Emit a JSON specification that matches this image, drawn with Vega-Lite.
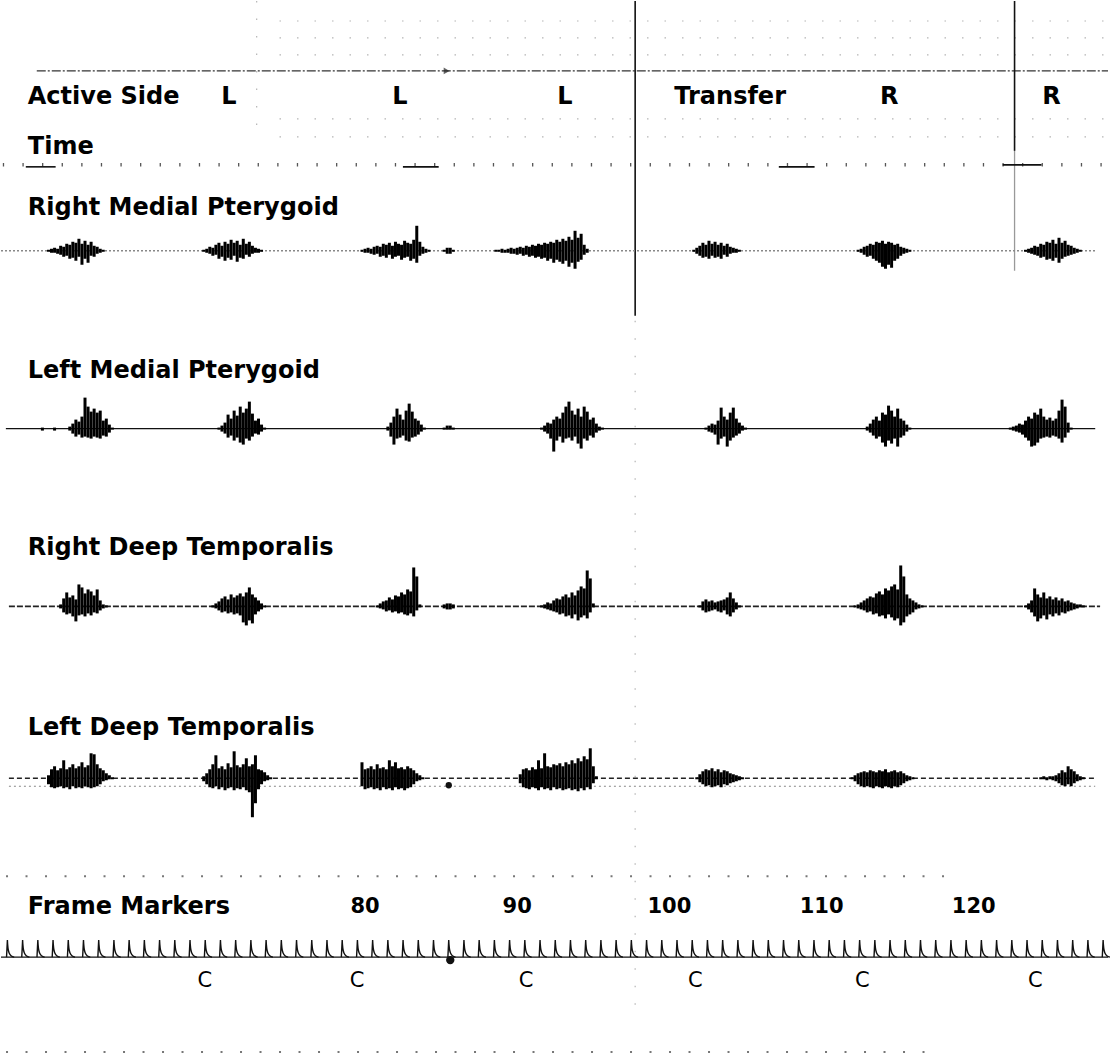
{
"$schema":"https://vega.github.io/schema/vega-lite/v6.json",
"width":1113,"height":1055,
"autosize":{"type":"fit","contains":"padding"},
"padding":0,
"background":"white",
"config":{"view":{"stroke":null},"text":{"font":"DejaVu Sans","color":"#000"}},
"resolve":{"scale":{"y":"independent"}},
"datasets":{
"lines":[
{"s":"faint","f1":74.38,"f2":128.82,"p1":20,"p2":20},
{"s":"faint","f1":74.38,"f2":128.82,"p1":37,"p2":37},
{"s":"faint","f1":74.38,"f2":128.82,"p1":54,"p2":54},
{"s":"faint","f1":74.38,"f2":128.82,"p1":118,"p2":118},
{"s":"faint","f1":74.38,"f2":128.82,"p1":136,"p2":136},
{"s":"faint","f1":72.88,"f2":72.88,"p1":0,"p2":130},
{"s":"faint","f1":97.75,"f2":97.75,"p1":320,"p2":1010},
{"s":"dots","f1":56.41,"f2":118.17,"p1":876,"p2":876},
{"s":"dots","f1":56.41,"f2":116.86,"p1":1052,"p2":1052},
{"s":"tick","f1":56.2,"f2":128.82,"p1":164,"p2":164},
{"s":"dash","f1":58.43,"f2":128.82,"p1":70,"p2":70},
{"s":"gray","f1":122.68,"f2":122.68,"p1":150,"p2":270},
{"s":"solid","f1":97.75,"f2":97.75,"p1":0,"p2":315},
{"s":"solid","f1":122.68,"f2":122.68,"p1":0,"p2":150},
{"s":"solid","f1":57.71,"f2":59.67,"p1":166,"p2":166},
{"s":"solid","f1":82.49,"f2":84.84,"p1":166,"p2":166},
{"s":"solid","f1":107.19,"f2":109.54,"p1":166,"p2":166},
{"s":"solid","f1":121.9,"f2":124.45,"p1":164,"p2":164}
],
"texts":[
{"k":"lab","t":"Active Side","f":57.84,"p":96},
{"k":"lab","t":"Time","f":57.84,"p":146},
{"k":"lab","t":"Right Medial Pterygoid","f":57.84,"p":207},
{"k":"lab","t":"Left Medial Pterygoid","f":57.84,"p":370},
{"k":"lab","t":"Right Deep Temporalis","f":57.84,"p":548},
{"k":"lab","t":"Left Deep Temporalis","f":57.84,"p":728},
{"k":"lab","t":"Frame Markers","f":57.84,"p":907},
{"k":"side","t":"L","f":71.05,"p":96},
{"k":"side","t":"L","f":82.29,"p":96},
{"k":"side","t":"L","f":93.14,"p":96},
{"k":"side","t":"Transfer","f":103.99,"p":96},
{"k":"side","t":"R","f":114.45,"p":96},
{"k":"side","t":"R","f":125.1,"p":96},
{"k":"num","t":"80","f":80,"p":907},
{"k":"num","t":"90","f":90,"p":907},
{"k":"num","t":"100","f":100,"p":907},
{"k":"num","t":"110","f":110,"p":907},
{"k":"num","t":"120","f":120,"p":907},
{"k":"c","t":"C","f":69.48,"p":981},
{"k":"c","t":"C","f":79.48,"p":981},
{"k":"c","t":"C","f":90.59,"p":981},
{"k":"c","t":"C","f":101.7,"p":981},
{"k":"c","t":"C","f":112.68,"p":981},
{"k":"c","t":"C","f":124.05,"p":981}
],
"rmp":[
{"f":59.2,"h":1,"l":-1},{"f":59.4,"h":2,"l":-2},{"f":59.6,"h":3,"l":-2},{"f":59.8,"h":2,"l":-3},{"f":60.0,"h":5,"l":-4},{"f":60.2,"h":4,"l":-6},{"f":60.4,"h":7,"l":-5},{"f":60.6,"h":6,"l":-8},{"f":60.8,"h":9,"l":-7},{"f":61.0,"h":8,"l":-10},{"f":61.2,"h":12,"l":-6},{"f":61.4,"h":7,"l":-14},{"f":61.6,"h":10,"l":-8},{"f":61.8,"h":6,"l":-12},{"f":62.0,"h":9,"l":-5},{"f":62.2,"h":5,"l":-6},{"f":62.4,"h":4,"l":-3},{"f":62.6,"h":2,"l":-2},{"f":62.8,"h":1,"l":-1},
{"f":69.4,"h":1,"l":-1},{"f":69.6,"h":2,"l":-2},{"f":69.8,"h":4,"l":-3},{"f":70.0,"h":3,"l":-5},{"f":70.2,"h":6,"l":-4},{"f":70.4,"h":8,"l":-8},{"f":70.6,"h":5,"l":-6},{"f":70.8,"h":9,"l":-10},{"f":71.0,"h":7,"l":-7},{"f":71.2,"h":11,"l":-9},{"f":71.4,"h":8,"l":-5},{"f":71.6,"h":10,"l":-11},{"f":71.8,"h":6,"l":-7},{"f":72.0,"h":12,"l":-8},{"f":72.2,"h":7,"l":-4},{"f":72.4,"h":9,"l":-6},{"f":72.6,"h":5,"l":-3},{"f":72.8,"h":3,"l":-2},{"f":73.0,"h":2,"l":-2},{"f":73.2,"h":1,"l":-1},
{"f":79.8,"h":1,"l":-1},{"f":80.0,"h":2,"l":-2},{"f":80.2,"h":3,"l":-2},{"f":80.4,"h":2,"l":-3},{"f":80.6,"h":4,"l":-4},{"f":80.8,"h":5,"l":-3},{"f":81.0,"h":4,"l":-6},{"f":81.2,"h":7,"l":-5},{"f":81.4,"h":6,"l":-7},{"f":81.6,"h":8,"l":-4},{"f":81.8,"h":5,"l":-8},{"f":82.0,"h":9,"l":-6},{"f":82.2,"h":7,"l":-5},{"f":82.4,"h":6,"l":-9},{"f":82.6,"h":10,"l":-7},{"f":82.8,"h":8,"l":-6},{"f":83.0,"h":7,"l":-10},{"f":83.2,"h":11,"l":-8},{"f":83.4,"h":25,"l":-12},{"f":83.6,"h":9,"l":-5},{"f":83.8,"h":4,"l":-3},{"f":84.0,"h":2,"l":-2},{"f":84.2,"h":1,"l":-1},
{"f":85.2,"h":1,"l":-1},{"f":85.4,"h":3,"l":-3},{"f":85.6,"h":3,"l":-3},{"f":85.8,"h":1,"l":-1},
{"f":88.6,"h":1,"l":-1},{"f":88.8,"h":1,"l":-1},{"f":89.0,"h":2,"l":-2},{"f":89.2,"h":1,"l":-2},{"f":89.4,"h":2,"l":-2},{"f":89.6,"h":3,"l":-3},{"f":89.8,"h":2,"l":-3},{"f":90.0,"h":3,"l":-4},{"f":90.2,"h":4,"l":-3},{"f":90.4,"h":3,"l":-5},{"f":90.6,"h":5,"l":-4},{"f":90.8,"h":4,"l":-6},{"f":91.0,"h":6,"l":-5},{"f":91.2,"h":5,"l":-7},{"f":91.4,"h":7,"l":-6},{"f":91.6,"h":6,"l":-8},{"f":91.8,"h":8,"l":-7},{"f":92.0,"h":7,"l":-10},{"f":92.2,"h":9,"l":-8},{"f":92.4,"h":8,"l":-12},{"f":92.6,"h":11,"l":-9},{"f":92.8,"h":9,"l":-11},{"f":93.0,"h":12,"l":-13},{"f":93.2,"h":10,"l":-10},{"f":93.4,"h":14,"l":-16},{"f":93.6,"h":11,"l":-12},{"f":93.8,"h":20,"l":-18},{"f":94.0,"h":13,"l":-11},{"f":94.2,"h":17,"l":-9},{"f":94.4,"h":6,"l":-4},{"f":94.6,"h":2,"l":-2},
{"f":101.6,"h":1,"l":-1},{"f":101.8,"h":3,"l":-3},{"f":102.0,"h":5,"l":-5},{"f":102.2,"h":8,"l":-7},{"f":102.4,"h":6,"l":-6},{"f":102.6,"h":10,"l":-8},{"f":102.8,"h":7,"l":-5},{"f":103.0,"h":9,"l":-7},{"f":103.2,"h":6,"l":-6},{"f":103.4,"h":8,"l":-8},{"f":103.6,"h":5,"l":-4},{"f":103.8,"h":7,"l":-6},{"f":104.0,"h":4,"l":-3},{"f":104.2,"h":3,"l":-2},{"f":104.4,"h":2,"l":-2},{"f":104.6,"h":1,"l":-1},
{"f":112.4,"h":1,"l":-1},{"f":112.6,"h":2,"l":-2},{"f":112.8,"h":4,"l":-4},{"f":113.0,"h":5,"l":-6},{"f":113.2,"h":7,"l":-5},{"f":113.4,"h":6,"l":-8},{"f":113.6,"h":9,"l":-10},{"f":113.8,"h":8,"l":-12},{"f":114.0,"h":10,"l":-16},{"f":114.2,"h":7,"l":-18},{"f":114.4,"h":9,"l":-14},{"f":114.6,"h":8,"l":-17},{"f":114.8,"h":6,"l":-10},{"f":115.0,"h":7,"l":-8},{"f":115.2,"h":4,"l":-5},{"f":115.4,"h":3,"l":-3},{"f":115.6,"h":2,"l":-2},{"f":115.8,"h":1,"l":-1},
{"f":123.4,"h":1,"l":-1},{"f":123.6,"h":2,"l":-2},{"f":123.8,"h":3,"l":-3},{"f":124.0,"h":5,"l":-4},{"f":124.2,"h":4,"l":-5},{"f":124.4,"h":7,"l":-7},{"f":124.6,"h":6,"l":-6},{"f":124.8,"h":9,"l":-9},{"f":125.0,"h":8,"l":-8},{"f":125.2,"h":11,"l":-10},{"f":125.4,"h":7,"l":-7},{"f":125.6,"h":13,"l":-12},{"f":125.8,"h":8,"l":-8},{"f":126.0,"h":10,"l":-6},{"f":126.2,"h":6,"l":-5},{"f":126.4,"h":5,"l":-4},{"f":126.6,"h":3,"l":-3},{"f":126.8,"h":2,"l":-2},{"f":127.0,"h":1,"l":-1}
],
"lmp":[
{"f":58.8,"h":1,"l":-2},{"f":59.6,"h":1,"l":-2},
{"f":60.6,"h":2,"l":-2},{"f":60.8,"h":5,"l":-5},{"f":61.0,"h":9,"l":-8},{"f":61.2,"h":7,"l":-6},{"f":61.4,"h":12,"l":-9},{"f":61.6,"h":31,"l":-8},{"f":61.8,"h":22,"l":-9},{"f":62.0,"h":17,"l":-10},{"f":62.2,"h":20,"l":-8},{"f":62.4,"h":16,"l":-9},{"f":62.6,"h":18,"l":-10},{"f":62.8,"h":8,"l":-7},{"f":63.0,"h":10,"l":-8},{"f":63.2,"h":4,"l":-4},{"f":63.4,"h":1,"l":-1},
{"f":70.4,"h":1,"l":-1},{"f":70.6,"h":3,"l":-3},{"f":70.8,"h":6,"l":-5},{"f":71.0,"h":14,"l":-9},{"f":71.2,"h":10,"l":-7},{"f":71.4,"h":18,"l":-12},{"f":71.6,"h":13,"l":-9},{"f":71.8,"h":22,"l":-14},{"f":72.0,"h":16,"l":-16},{"f":72.2,"h":20,"l":-10},{"f":72.4,"h":27,"l":-12},{"f":72.6,"h":15,"l":-8},{"f":72.8,"h":8,"l":-5},{"f":73.0,"h":10,"l":-6},{"f":73.2,"h":4,"l":-3},{"f":73.4,"h":1,"l":-1},
{"f":81.5,"h":2,"l":-2},{"f":81.7,"h":6,"l":-8},{"f":81.9,"h":12,"l":-16},{"f":82.1,"h":20,"l":-10},{"f":82.3,"h":14,"l":-9},{"f":82.5,"h":9,"l":-7},{"f":82.7,"h":18,"l":-12},{"f":82.9,"h":25,"l":-13},{"f":83.1,"h":17,"l":-9},{"f":83.3,"h":10,"l":-8},{"f":83.5,"h":8,"l":-6},{"f":83.7,"h":4,"l":-3},{"f":83.9,"h":1,"l":-1},
{"f":85.2,"h":1,"l":-1},{"f":85.4,"h":3,"l":-1},{"f":85.6,"h":3,"l":-1},{"f":85.8,"h":1,"l":-1},
{"f":91.6,"h":1,"l":-1},{"f":91.8,"h":3,"l":-3},{"f":92.0,"h":6,"l":-5},{"f":92.2,"h":5,"l":-10},{"f":92.4,"h":9,"l":-23},{"f":92.6,"h":12,"l":-12},{"f":92.8,"h":10,"l":-8},{"f":93.0,"h":16,"l":-14},{"f":93.2,"h":22,"l":-10},{"f":93.4,"h":27,"l":-9},{"f":93.6,"h":18,"l":-12},{"f":93.8,"h":14,"l":-8},{"f":94.0,"h":20,"l":-15},{"f":94.2,"h":12,"l":-20},{"f":94.4,"h":22,"l":-10},{"f":94.6,"h":17,"l":-12},{"f":94.8,"h":9,"l":-7},{"f":95.0,"h":11,"l":-9},{"f":95.2,"h":5,"l":-4},{"f":95.4,"h":2,"l":-2},{"f":95.6,"h":1,"l":-1},
{"f":102.4,"h":1,"l":-1},{"f":102.6,"h":3,"l":-3},{"f":102.8,"h":5,"l":-4},{"f":103.0,"h":4,"l":-6},{"f":103.2,"h":8,"l":-16},{"f":103.4,"h":21,"l":-10},{"f":103.6,"h":12,"l":-8},{"f":103.8,"h":9,"l":-18},{"f":104.0,"h":16,"l":-12},{"f":104.2,"h":21,"l":-9},{"f":104.4,"h":10,"l":-7},{"f":104.6,"h":6,"l":-5},{"f":104.8,"h":3,"l":-2},{"f":105.0,"h":1,"l":-1},
{"f":113.0,"h":2,"l":-2},{"f":113.2,"h":5,"l":-4},{"f":113.4,"h":9,"l":-7},{"f":113.6,"h":12,"l":-10},{"f":113.8,"h":8,"l":-8},{"f":114.0,"h":16,"l":-14},{"f":114.2,"h":14,"l":-18},{"f":114.4,"h":23,"l":-12},{"f":114.6,"h":18,"l":-15},{"f":114.8,"h":12,"l":-10},{"f":115.0,"h":20,"l":-18},{"f":115.2,"h":10,"l":-9},{"f":115.4,"h":8,"l":-7},{"f":115.6,"h":4,"l":-3},{"f":115.8,"h":1,"l":-1},
{"f":122.4,"h":1,"l":-1},{"f":122.6,"h":2,"l":-2},{"f":122.8,"h":3,"l":-3},{"f":123.0,"h":5,"l":-4},{"f":123.2,"h":4,"l":-6},{"f":123.4,"h":8,"l":-9},{"f":123.6,"h":12,"l":-12},{"f":123.8,"h":10,"l":-18},{"f":124.0,"h":16,"l":-17},{"f":124.2,"h":14,"l":-14},{"f":124.4,"h":20,"l":-10},{"f":124.6,"h":12,"l":-9},{"f":124.8,"h":9,"l":-8},{"f":125.0,"h":11,"l":-9},{"f":125.2,"h":8,"l":-7},{"f":125.4,"h":10,"l":-8},{"f":125.6,"h":18,"l":-10},{"f":125.8,"h":29,"l":-14},{"f":126.0,"h":22,"l":-9},{"f":126.2,"h":6,"l":-4},{"f":126.4,"h":1,"l":-1}
],
"rdt":[
{"f":60.0,"h":2,"l":-2},{"f":60.2,"h":8,"l":-6},{"f":60.4,"h":14,"l":-8},{"f":60.6,"h":9,"l":-7},{"f":60.8,"h":11,"l":-10},{"f":61.0,"h":7,"l":-15},{"f":61.2,"h":22,"l":-9},{"f":61.4,"h":19,"l":-8},{"f":61.6,"h":13,"l":-10},{"f":61.8,"h":17,"l":-7},{"f":62.0,"h":15,"l":-9},{"f":62.2,"h":11,"l":-6},{"f":62.4,"h":17,"l":-7},{"f":62.6,"h":6,"l":-4},{"f":62.8,"h":2,"l":-2},{"f":63.0,"h":1,"l":-1},
{"f":70.0,"h":1,"l":-1},{"f":70.2,"h":3,"l":-2},{"f":70.4,"h":5,"l":-4},{"f":70.6,"h":8,"l":-6},{"f":70.8,"h":10,"l":-5},{"f":71.0,"h":7,"l":-7},{"f":71.2,"h":12,"l":-6},{"f":71.4,"h":9,"l":-8},{"f":71.6,"h":11,"l":-7},{"f":71.8,"h":13,"l":-9},{"f":72.0,"h":10,"l":-16},{"f":72.2,"h":14,"l":-19},{"f":72.4,"h":19,"l":-14},{"f":72.6,"h":12,"l":-17},{"f":72.8,"h":9,"l":-8},{"f":73.0,"h":6,"l":-5},{"f":73.2,"h":3,"l":-3},{"f":73.4,"h":1,"l":-1},
{"f":80.8,"h":1,"l":-1},{"f":81.0,"h":3,"l":-2},{"f":81.2,"h":5,"l":-3},{"f":81.4,"h":6,"l":-5},{"f":81.6,"h":9,"l":-4},{"f":81.8,"h":7,"l":-6},{"f":82.0,"h":11,"l":-5},{"f":82.2,"h":10,"l":-7},{"f":82.4,"h":14,"l":-6},{"f":82.6,"h":12,"l":-8},{"f":82.8,"h":17,"l":-9},{"f":83.0,"h":15,"l":-7},{"f":83.2,"h":39,"l":-10},{"f":83.4,"h":30,"l":-4},{"f":83.6,"h":2,"l":-1},
{"f":85.2,"h":2,"l":-2},{"f":85.4,"h":3,"l":-3},{"f":85.6,"h":3,"l":-3},{"f":85.8,"h":2,"l":-2},
{"f":91.6,"h":1,"l":-1},{"f":91.8,"h":2,"l":-2},{"f":92.0,"h":4,"l":-3},{"f":92.2,"h":3,"l":-4},{"f":92.4,"h":6,"l":-5},{"f":92.6,"h":8,"l":-6},{"f":92.8,"h":7,"l":-8},{"f":93.0,"h":10,"l":-7},{"f":93.2,"h":12,"l":-10},{"f":93.4,"h":9,"l":-9},{"f":93.6,"h":14,"l":-12},{"f":93.8,"h":11,"l":-8},{"f":94.0,"h":16,"l":-14},{"f":94.2,"h":20,"l":-11},{"f":94.4,"h":18,"l":-9},{"f":94.6,"h":36,"l":-12},{"f":94.8,"h":28,"l":-6},{"f":95.0,"h":3,"l":-1},
{"f":102.0,"h":1,"l":-1},{"f":102.2,"h":5,"l":-4},{"f":102.4,"h":7,"l":-6},{"f":102.6,"h":5,"l":-5},{"f":102.8,"h":6,"l":-4},{"f":103.0,"h":4,"l":-3},{"f":103.2,"h":5,"l":-5},{"f":103.4,"h":6,"l":-6},{"f":103.6,"h":7,"l":-4},{"f":103.8,"h":9,"l":-8},{"f":104.0,"h":14,"l":-10},{"f":104.2,"h":8,"l":-6},{"f":104.4,"h":4,"l":-3},{"f":104.6,"h":1,"l":-1},
{"f":112.2,"h":1,"l":-1},{"f":112.4,"h":2,"l":-2},{"f":112.6,"h":4,"l":-3},{"f":112.8,"h":6,"l":-4},{"f":113.0,"h":8,"l":-6},{"f":113.2,"h":10,"l":-5},{"f":113.4,"h":9,"l":-8},{"f":113.6,"h":13,"l":-7},{"f":113.8,"h":15,"l":-10},{"f":114.0,"h":12,"l":-9},{"f":114.2,"h":18,"l":-12},{"f":114.4,"h":16,"l":-8},{"f":114.6,"h":20,"l":-11},{"f":114.8,"h":22,"l":-14},{"f":115.0,"h":17,"l":-12},{"f":115.2,"h":41,"l":-19},{"f":115.4,"h":30,"l":-16},{"f":115.6,"h":12,"l":-10},{"f":115.8,"h":8,"l":-8},{"f":116.0,"h":6,"l":-6},{"f":116.2,"h":4,"l":-3},{"f":116.4,"h":2,"l":-2},{"f":116.6,"h":1,"l":-1},
{"f":123.4,"h":1,"l":-1},{"f":123.6,"h":3,"l":-3},{"f":123.8,"h":6,"l":-6},{"f":124.0,"h":18,"l":-10},{"f":124.2,"h":12,"l":-15},{"f":124.4,"h":9,"l":-12},{"f":124.6,"h":14,"l":-9},{"f":124.8,"h":8,"l":-13},{"f":125.0,"h":10,"l":-8},{"f":125.2,"h":7,"l":-10},{"f":125.4,"h":9,"l":-7},{"f":125.6,"h":6,"l":-9},{"f":125.8,"h":8,"l":-6},{"f":126.0,"h":5,"l":-7},{"f":126.2,"h":6,"l":-5},{"f":126.4,"h":4,"l":-4},{"f":126.6,"h":3,"l":-3},{"f":126.8,"h":2,"l":-2},{"f":127.0,"h":2,"l":-1},{"f":127.2,"h":1,"l":-1}
],
"ldt":[
{"f":59.2,"h":3,"l":-6},{"f":59.4,"h":9,"l":-9},{"f":59.6,"h":12,"l":-10},{"f":59.8,"h":8,"l":-9},{"f":60.0,"h":10,"l":-8},{"f":60.2,"h":18,"l":-10},{"f":60.4,"h":9,"l":-9},{"f":60.6,"h":11,"l":-11},{"f":60.8,"h":14,"l":-8},{"f":61.0,"h":10,"l":-10},{"f":61.2,"h":12,"l":-9},{"f":61.4,"h":16,"l":-10},{"f":61.6,"h":11,"l":-8},{"f":61.8,"h":13,"l":-9},{"f":62.0,"h":25,"l":-10},{"f":62.2,"h":24,"l":-9},{"f":62.4,"h":14,"l":-8},{"f":62.6,"h":10,"l":-6},{"f":62.8,"h":8,"l":-3},{"f":63.0,"h":5,"l":-2},{"f":63.2,"h":3,"l":-1},{"f":63.4,"h":1,"l":-1},
{"f":69.4,"h":2,"l":-3},{"f":69.6,"h":5,"l":-6},{"f":69.8,"h":9,"l":-9},{"f":70.0,"h":14,"l":-10},{"f":70.2,"h":23,"l":-8},{"f":70.4,"h":10,"l":-11},{"f":70.6,"h":12,"l":-9},{"f":70.8,"h":9,"l":-12},{"f":71.0,"h":15,"l":-10},{"f":71.2,"h":11,"l":-9},{"f":71.4,"h":27,"l":-12},{"f":71.6,"h":13,"l":-10},{"f":71.8,"h":11,"l":-11},{"f":72.0,"h":14,"l":-9},{"f":72.2,"h":20,"l":-12},{"f":72.4,"h":12,"l":-14},{"f":72.6,"h":14,"l":-39},{"f":72.8,"h":23,"l":-25},{"f":73.0,"h":9,"l":-11},{"f":73.2,"h":8,"l":-6},{"f":73.4,"h":6,"l":-3},{"f":73.6,"h":3,"l":-2},{"f":73.8,"h":1,"l":-1},
{"f":79.8,"h":16,"l":-8},{"f":80.0,"h":9,"l":-11},{"f":80.2,"h":10,"l":-10},{"f":80.4,"h":12,"l":-9},{"f":80.6,"h":9,"l":-11},{"f":80.8,"h":14,"l":-10},{"f":81.0,"h":10,"l":-12},{"f":81.2,"h":11,"l":-9},{"f":81.4,"h":9,"l":-11},{"f":81.6,"h":18,"l":-10},{"f":81.8,"h":12,"l":-12},{"f":82.0,"h":16,"l":-9},{"f":82.2,"h":10,"l":-11},{"f":82.4,"h":11,"l":-10},{"f":82.6,"h":9,"l":-12},{"f":82.8,"h":12,"l":-10},{"f":83.0,"h":10,"l":-9},{"f":83.2,"h":8,"l":-6},{"f":83.4,"h":5,"l":-3},{"f":83.6,"h":3,"l":-2},{"f":83.8,"h":1,"l":-1},
{"f":90.2,"h":4,"l":-5},{"f":90.4,"h":9,"l":-9},{"f":90.6,"h":10,"l":-10},{"f":90.8,"h":8,"l":-11},{"f":91.0,"h":11,"l":-9},{"f":91.2,"h":9,"l":-10},{"f":91.4,"h":18,"l":-12},{"f":91.6,"h":10,"l":-9},{"f":91.8,"h":25,"l":-11},{"f":92.0,"h":12,"l":-10},{"f":92.2,"h":11,"l":-12},{"f":92.4,"h":14,"l":-9},{"f":92.6,"h":13,"l":-11},{"f":92.8,"h":15,"l":-10},{"f":93.0,"h":12,"l":-12},{"f":93.2,"h":16,"l":-11},{"f":93.4,"h":14,"l":-10},{"f":93.6,"h":18,"l":-12},{"f":93.8,"h":15,"l":-11},{"f":94.0,"h":20,"l":-13},{"f":94.2,"h":17,"l":-10},{"f":94.4,"h":22,"l":-12},{"f":94.6,"h":19,"l":-9},{"f":94.8,"h":30,"l":-11},{"f":95.0,"h":12,"l":-5},{"f":95.2,"h":2,"l":-1},
{"f":101.8,"h":1,"l":-1},{"f":102.0,"h":4,"l":-4},{"f":102.2,"h":7,"l":-6},{"f":102.4,"h":9,"l":-8},{"f":102.6,"h":8,"l":-7},{"f":102.8,"h":10,"l":-9},{"f":103.0,"h":7,"l":-8},{"f":103.2,"h":9,"l":-7},{"f":103.4,"h":6,"l":-9},{"f":103.6,"h":8,"l":-6},{"f":103.8,"h":7,"l":-7},{"f":104.0,"h":5,"l":-5},{"f":104.2,"h":4,"l":-4},{"f":104.4,"h":3,"l":-3},{"f":104.6,"h":2,"l":-2},{"f":104.8,"h":1,"l":-1},
{"f":112.0,"h":1,"l":-1},{"f":112.2,"h":3,"l":-3},{"f":112.4,"h":5,"l":-6},{"f":112.6,"h":6,"l":-8},{"f":112.8,"h":7,"l":-9},{"f":113.0,"h":6,"l":-8},{"f":113.2,"h":8,"l":-9},{"f":113.4,"h":7,"l":-10},{"f":113.6,"h":6,"l":-8},{"f":113.8,"h":8,"l":-9},{"f":114.0,"h":7,"l":-10},{"f":114.2,"h":9,"l":-8},{"f":114.4,"h":6,"l":-9},{"f":114.6,"h":7,"l":-10},{"f":114.8,"h":8,"l":-8},{"f":115.0,"h":6,"l":-9},{"f":115.2,"h":7,"l":-7},{"f":115.4,"h":5,"l":-5},{"f":115.6,"h":3,"l":-3},{"f":115.8,"h":2,"l":-2},{"f":116.0,"h":1,"l":-1},
{"f":124.4,"h":1,"l":-1},{"f":124.6,"h":2,"l":-1},{"f":124.8,"h":1,"l":-2},{"f":125.0,"h":2,"l":-1},{"f":125.2,"h":2,"l":-2},{"f":125.4,"h":3,"l":-3},{"f":125.6,"h":5,"l":-5},{"f":125.8,"h":8,"l":-7},{"f":126.0,"h":6,"l":-8},{"f":126.2,"h":12,"l":-6},{"f":126.4,"h":9,"l":-8},{"f":126.6,"h":7,"l":-5},{"f":126.8,"h":4,"l":-3},{"f":127.0,"h":2,"l":-2},{"f":127.2,"h":1,"l":-1}
],
"ticks":[
{"f":56.5},{"f":57.5},{"f":58.5},{"f":59.5},{"f":60.5},{"f":61.5},{"f":62.5},{"f":63.5},{"f":64.5},{"f":65.5},{"f":66.5},{"f":67.5},{"f":68.5},{"f":69.5},{"f":70.5},{"f":71.5},{"f":72.5},{"f":73.5},{"f":74.5},{"f":75.5},{"f":76.5},{"f":77.5},{"f":78.5},{"f":79.5},{"f":80.5},{"f":81.5},{"f":82.5},{"f":83.5},{"f":84.5},{"f":85.5},{"f":86.5},{"f":87.5},{"f":88.5},{"f":89.5},{"f":90.5},{"f":91.5},{"f":92.5},{"f":93.5},{"f":94.5},{"f":95.5},{"f":96.5},{"f":97.5},{"f":98.5},{"f":99.5},{"f":100.5},{"f":101.5},{"f":102.5},{"f":103.5},{"f":104.5},{"f":105.5},{"f":106.5},{"f":107.5},{"f":108.5},{"f":109.5},{"f":110.5},{"f":111.5},{"f":112.5},{"f":113.5},{"f":114.5},{"f":115.5},{"f":116.5},{"f":117.5},{"f":118.5},{"f":119.5},{"f":120.5},{"f":121.5},{"f":122.5},{"f":123.5},{"f":124.5},{"f":125.5},{"f":126.5},{"f":127.5},{"f":128.5}
]
},
"layer":[
{"data":{"name":"lines"},"transform":[{"filter":"datum.s==='faint'"}],
 "mark":{"type":"rule","color":"#b5b5b5","strokeWidth":1.2,"strokeDash":[1.5,16]},
 "encoding":{"x":{"field":"f1","type":"quantitative","scale":{"domain":[56.08,128.82],"nice":false,"zero":false},"axis":null},"x2":{"field":"f2"},
 "y":{"field":"p1","type":"quantitative","scale":{"domain":[0,1055],"reverse":true,"nice":false,"zero":false},"axis":null},"y2":{"field":"p2"}}},
{"data":{"name":"lines"},"transform":[{"filter":"datum.s==='dots'"}],
 "mark":{"type":"rule","color":"#777","strokeWidth":2,"strokeDash":[2,17.5]},
 "encoding":{"x":{"field":"f1","type":"quantitative","scale":{"domain":[56.08,128.82],"nice":false,"zero":false},"axis":null},"x2":{"field":"f2"},
 "y":{"field":"p1","type":"quantitative","scale":{"domain":[0,1055],"reverse":true,"nice":false,"zero":false},"axis":null},"y2":{"field":"p2"}}},
{"data":{"name":"lines"},"transform":[{"filter":"datum.s==='tick'"}],
 "mark":{"type":"rule","color":"#555","strokeWidth":3.5,"strokeDash":[1.3,18.3]},
 "encoding":{"x":{"field":"f1","type":"quantitative","scale":{"domain":[56.08,128.82],"nice":false,"zero":false},"axis":null},"x2":{"field":"f2"},
 "y":{"field":"p1","type":"quantitative","scale":{"domain":[0,1055],"reverse":true,"nice":false,"zero":false},"axis":null},"y2":{"field":"p2"}}},
{"data":{"name":"lines"},"transform":[{"filter":"datum.s==='dash'"}],
 "mark":{"type":"rule","color":"#333","strokeWidth":1.3,"strokeDash":[9,2,2,2]},
 "encoding":{"x":{"field":"f1","type":"quantitative","scale":{"domain":[56.08,128.82],"nice":false,"zero":false},"axis":null},"x2":{"field":"f2"},
 "y":{"field":"p1","type":"quantitative","scale":{"domain":[0,1055],"reverse":true,"nice":false,"zero":false},"axis":null},"y2":{"field":"p2"}}},
{"data":{"name":"lines"},"transform":[{"filter":"datum.s==='gray'"}],
 "mark":{"type":"rule","color":"#999","strokeWidth":1.3},
 "encoding":{"x":{"field":"f1","type":"quantitative","scale":{"domain":[56.08,128.82],"nice":false,"zero":false},"axis":null},"x2":{"field":"f2"},
 "y":{"field":"p1","type":"quantitative","scale":{"domain":[0,1055],"reverse":true,"nice":false,"zero":false},"axis":null},"y2":{"field":"p2"}}},
{"data":{"name":"lines"},"transform":[{"filter":"datum.s==='solid'"}],
 "mark":{"type":"rule","color":"#111","strokeWidth":1.6},
 "encoding":{"x":{"field":"f1","type":"quantitative","scale":{"domain":[56.08,128.82],"nice":false,"zero":false},"axis":null},"x2":{"field":"f2"},
 "y":{"field":"p1","type":"quantitative","scale":{"domain":[0,1055],"reverse":true,"nice":false,"zero":false},"axis":null},"y2":{"field":"p2"}}},
{"data":{"values":[{"f":85.36,"p":70}]},
 "mark":{"type":"point","shape":"triangle-right","filled":true,"size":45,"color":"#222"},
 "encoding":{"x":{"field":"f","type":"quantitative","scale":{"domain":[56.08,128.82],"nice":false,"zero":false},"axis":null},
 "y":{"field":"p","type":"quantitative","scale":{"domain":[0,1055],"reverse":true,"nice":false,"zero":false},"axis":null}}},
{"data":{"name":"texts"},"transform":[{"filter":"datum.k==='lab'"}],
 "mark":{"type":"text","align":"left","baseline":"middle","fontSize":24,"fontWeight":"bold","font":"DejaVu Sans"},
 "encoding":{"x":{"field":"f","type":"quantitative","scale":{"domain":[56.08,128.82],"nice":false,"zero":false},"axis":null},
 "y":{"field":"p","type":"quantitative","scale":{"domain":[0,1055],"reverse":true,"nice":false,"zero":false},"axis":null},"text":{"field":"t"}}},
{"data":{"name":"texts"},"transform":[{"filter":"datum.k==='side'"}],
 "mark":{"type":"text","align":"center","baseline":"middle","fontSize":24,"fontWeight":"bold","font":"DejaVu Sans"},
 "encoding":{"x":{"field":"f","type":"quantitative","scale":{"domain":[56.08,128.82],"nice":false,"zero":false},"axis":null},
 "y":{"field":"p","type":"quantitative","scale":{"domain":[0,1055],"reverse":true,"nice":false,"zero":false},"axis":null},"text":{"field":"t"}}},
{"data":{"name":"texts"},"transform":[{"filter":"datum.k==='num'"}],
 "mark":{"type":"text","align":"center","baseline":"middle","fontSize":21,"fontWeight":"bold","font":"DejaVu Sans"},
 "encoding":{"x":{"field":"f","type":"quantitative","scale":{"domain":[56.08,128.82],"nice":false,"zero":false},"axis":null},
 "y":{"field":"p","type":"quantitative","scale":{"domain":[0,1055],"reverse":true,"nice":false,"zero":false},"axis":null},"text":{"field":"t"}}},
{"data":{"name":"texts"},"transform":[{"filter":"datum.k==='c'"}],
 "mark":{"type":"text","align":"center","baseline":"middle","fontSize":21,"font":"DejaVu Sans"},
 "encoding":{"x":{"field":"f","type":"quantitative","scale":{"domain":[56.08,128.82],"nice":false,"zero":false},"axis":null},
 "y":{"field":"p","type":"quantitative","scale":{"domain":[0,1055],"reverse":true,"nice":false,"zero":false},"axis":null},"text":{"field":"t"}}},
{"data":{"values":[{"f1":56.08,"f2":127.98}]},
 "mark":{"type":"rule","color":"#888","strokeWidth":1.5,"strokeDash":[2,2]},
 "encoding":{"x":{"field":"f1","type":"quantitative","scale":{"domain":[56.08,128.82],"nice":false,"zero":false},"axis":null},"x2":{"field":"f2"},
 "y":{"datum":0,"type":"quantitative","scale":{"domain":[-805,250],"nice":false,"zero":false},"axis":null}}},
{"data":{"name":"rmp"},
 "mark":{"type":"rule","color":"#000","strokeWidth":3},
 "encoding":{"x":{"field":"f","type":"quantitative","scale":{"domain":[56.08,128.82],"nice":false,"zero":false},"axis":null},
 "y":{"field":"h","type":"quantitative","scale":{"domain":[-805,250],"nice":false,"zero":false},"axis":null},"y2":{"field":"l"}}},
{"data":{"values":[{"f1":56.4,"f2":127.98}]},
 "mark":{"type":"rule","color":"#111","strokeWidth":1.4},
 "encoding":{"x":{"field":"f1","type":"quantitative","scale":{"domain":[56.08,128.82],"nice":false,"zero":false},"axis":null},"x2":{"field":"f2"},
 "y":{"datum":0,"type":"quantitative","scale":{"domain":[-627,428],"nice":false,"zero":false},"axis":null}}},
{"data":{"name":"lmp"},
 "mark":{"type":"rule","color":"#000","strokeWidth":3},
 "encoding":{"x":{"field":"f","type":"quantitative","scale":{"domain":[56.08,128.82],"nice":false,"zero":false},"axis":null},
 "y":{"field":"h","type":"quantitative","scale":{"domain":[-627,428],"nice":false,"zero":false},"axis":null},"y2":{"field":"l"}}},
{"data":{"values":[{"f1":56.6,"f2":128.3}]},
 "mark":{"type":"rule","color":"#222","strokeWidth":1.7,"strokeDash":[6,2]},
 "encoding":{"x":{"field":"f1","type":"quantitative","scale":{"domain":[56.08,128.82],"nice":false,"zero":false},"axis":null},"x2":{"field":"f2"},
 "y":{"datum":0,"type":"quantitative","scale":{"domain":[-449,606],"nice":false,"zero":false},"axis":null}}},
{"data":{"name":"rdt"},
 "mark":{"type":"rule","color":"#000","strokeWidth":3},
 "encoding":{"x":{"field":"f","type":"quantitative","scale":{"domain":[56.08,128.82],"nice":false,"zero":false},"axis":null},
 "y":{"field":"h","type":"quantitative","scale":{"domain":[-449,606],"nice":false,"zero":false},"axis":null},"y2":{"field":"l"}}},
{"data":{"values":[{"f1":56.6,"f2":127.98}]},
 "mark":{"type":"rule","color":"#222","strokeWidth":1.3,"strokeDash":[5,3]},
 "encoding":{"x":{"field":"f1","type":"quantitative","scale":{"domain":[56.08,128.82],"nice":false,"zero":false},"axis":null},"x2":{"field":"f2"},
 "y":{"datum":0,"type":"quantitative","scale":{"domain":[-277,778],"nice":false,"zero":false},"axis":null}}},
{"data":{"values":[{"f1":56.6,"f2":127.98}]},
 "mark":{"type":"rule","color":"#888","strokeWidth":1.2,"strokeDash":[2,3]},
 "encoding":{"x":{"field":"f1","type":"quantitative","scale":{"domain":[56.08,128.82],"nice":false,"zero":false},"axis":null},"x2":{"field":"f2"},
 "y":{"datum":-8,"type":"quantitative","scale":{"domain":[-277,778],"nice":false,"zero":false},"axis":null}}},
{"data":{"name":"ldt"},
 "mark":{"type":"rule","color":"#000","strokeWidth":3},
 "encoding":{"x":{"field":"f","type":"quantitative","scale":{"domain":[56.08,128.82],"nice":false,"zero":false},"axis":null},
 "y":{"field":"h","type":"quantitative","scale":{"domain":[-277,778],"nice":false,"zero":false},"axis":null},"y2":{"field":"l"}}},
{"data":{"values":[{"f":85.5,"v":-7}]},
 "mark":{"type":"point","filled":true,"size":40,"color":"#111","opacity":1},
 "encoding":{"x":{"field":"f","type":"quantitative","scale":{"domain":[56.08,128.82],"nice":false,"zero":false},"axis":null},
 "y":{"field":"v","type":"quantitative","scale":{"domain":[-277,778],"nice":false,"zero":false},"axis":null}}},
{"data":{"values":[{"f1":56.08,"f2":128.82}]},
 "mark":{"type":"rule","color":"#111","strokeWidth":1.3},
 "encoding":{"x":{"field":"f1","type":"quantitative","scale":{"domain":[56.08,128.82],"nice":false,"zero":false},"axis":null},"x2":{"field":"f2"},
 "y":{"datum":0,"type":"quantitative","scale":{"domain":[-98,957],"nice":false,"zero":false},"axis":null}}},
{"data":{"name":"ticks"},
 "mark":{"type":"point","shape":"M-0.1,1 L0,-1 C0.05,0.4 0.2,0.9 0.8,1","filled":false,"size":289,"strokeWidth":1.4,"color":"#111","opacity":1},
 "encoding":{"x":{"field":"f","type":"quantitative","scale":{"domain":[56.08,128.82],"nice":false,"zero":false},"axis":null},
 "y":{"datum":8.5,"type":"quantitative","scale":{"domain":[-98,957],"nice":false,"zero":false},"axis":null}}},
{"data":{"values":[{"f":85.6,"v":-3}]},
 "mark":{"type":"point","filled":true,"size":70,"color":"#111","opacity":1},
 "encoding":{"x":{"field":"f","type":"quantitative","scale":{"domain":[56.08,128.82],"nice":false,"zero":false},"axis":null},
 "y":{"field":"v","type":"quantitative","scale":{"domain":[-98,957],"nice":false,"zero":false},"axis":null}}}
]
}
